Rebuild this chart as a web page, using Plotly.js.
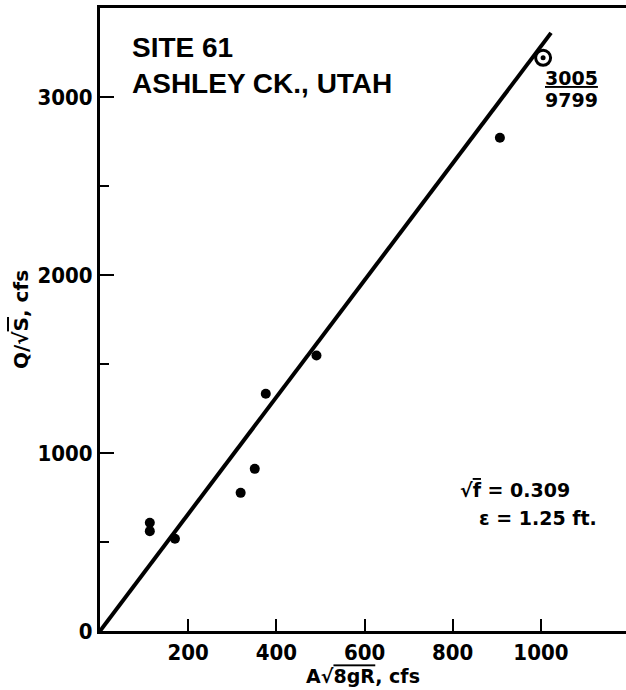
<!DOCTYPE html>
<html>
<head>
<meta charset="utf-8">
<script src="https://cdn.plot.ly/plotly-3.0.1.min.js"></script>
<style>
  html, body { margin: 0; padding: 0; background: #fff; }
  #chart { width: 626px; height: 690px; }
</style>
</head>
<body>
<div id="chart"></div>
<script>
// Observed points: A*sqrt(8gR) (cfs) vs Q/sqrt(S) (cfs)
const xPoints = [113, 113, 170, 319, 351, 376, 491, 907];
const yPoints = [608, 561, 518, 776, 911, 1333, 1548, 2771];
// Circled point (labelled 3005 / 9799)
const xCircled = [1005];
const yCircled = [3220];
// Fitted line through origin (sqrt f = 0.309)
const xLine = [0, 1023];
const yLine = [0, 3360];
// Tick labels
const xTicks = [200, 400, 600, 800, 1000];
const yTicks = [0, 1000, 2000, 3000];
const yMinorTicks = [500, 1500, 2500];

const tickFont = { family: 'DejaVu Sans Condensed, DejaVu Sans', size: 22, color: '#000', weight: 'bold' };

const traces = [
  {
    x: xLine, y: yLine, mode: 'lines', type: 'scatter',
    line: { color: '#000', width: 4 }, hoverinfo: 'skip', showlegend: false
  },
  {
    x: xPoints, y: yPoints, mode: 'markers', type: 'scatter',
    marker: { color: '#000', size: 10, symbol: 'circle' }, showlegend: false
  },
  {
    x: xCircled, y: yCircled, mode: 'markers', type: 'scatter',
    marker: { color: '#000', size: 15, symbol: 'circle-open', line: { color: '#000', width: 3 } },
    showlegend: false
  },
  {
    x: xCircled, y: yCircled, mode: 'markers', type: 'scatter',
    marker: { color: '#000', size: 5, symbol: 'circle' }, showlegend: false
  }
];

const layout = {
  width: 626, height: 690,
  margin: { l: 100, r: 0, t: 8, b: 59 },
  paper_bgcolor: '#fff', plot_bgcolor: '#fff',
  showlegend: false,
  xaxis: {
    range: [0, 1193],
    tickvals: xTicks, ticktext: xTicks.map(String),
    ticks: 'inside', ticklen: 12, tickwidth: 2, tickcolor: '#000',
    showline: true, linewidth: 3, linecolor: '#000', mirror: true,
    showgrid: false, zeroline: false,
    tickfont: tickFont,
    title: {
      text: "A√<span style='text-decoration:overline'>8gR</span>, cfs",
      font: { family: 'DejaVu Sans', size: 19, color: '#000', weight: 'bold' },
      standoff: 2
    }
  },
  yaxis: {
    range: [0, 3500],
    tickvals: yTicks, ticktext: yTicks.map(String),
    ticks: 'inside', ticklen: 14, tickwidth: 2, tickcolor: '#000',
    minor: { tickvals: yMinorTicks, ticks: 'inside', ticklen: 9, tickwidth: 2, tickcolor: '#000' },
    showline: true, linewidth: 3, linecolor: '#000',
    showgrid: false, zeroline: false,
    tickfont: tickFont,
    ticklabelstandoff: 0,
    title: {
      text: "Q/√<span style='text-decoration:overline'>S</span>, cfs",
      font: { family: 'DejaVu Sans', size: 20, color: '#000', weight: 'bold' },
      standoff: 4
    }
  },
  annotations: [
    { text: 'SITE 61', xref: 'paper', yref: 'paper', x: 0.057, y: 0.937,
      xanchor: 'left', yanchor: 'middle', showarrow: false,
      font: { family: 'Liberation Sans', size: 28, color: '#000', weight: 'bold' } },
    { text: 'ASHLEY CK., UTAH', xref: 'paper', yref: 'paper', x: 0.057, y: 0.879,
      xanchor: 'left', yanchor: 'middle', showarrow: false,
      font: { family: 'Liberation Sans', size: 28, color: '#000', weight: 'bold' } },
    { text: '<u>3005</u>', xref: 'paper', yref: 'paper', x: 0.896, y: 0.887,
      xanchor: 'center', yanchor: 'middle', showarrow: false,
      font: { family: 'DejaVu Sans', size: 19, color: '#000', weight: 'bold' } },
    { text: '9799', xref: 'paper', yref: 'paper', x: 0.896, y: 0.852,
      xanchor: 'center', yanchor: 'middle', showarrow: false,
      font: { family: 'DejaVu Sans', size: 19, color: '#000', weight: 'bold' } },
    { text: "√<span style='text-decoration:overline'>f</span> = 0.309", xref: 'paper', yref: 'paper',
      x: 0.681, y: 0.227, xanchor: 'left', yanchor: 'middle', showarrow: false,
      font: { family: 'DejaVu Sans', size: 19, color: '#000', weight: 'bold' } },
    { text: 'ε = 1.25 ft.', xref: 'paper', yref: 'paper',
      x: 0.717, y: 0.182, xanchor: 'left', yanchor: 'middle', showarrow: false,
      font: { family: 'DejaVu Sans', size: 19, color: '#000', weight: 'bold' } }
  ]
};

Plotly.newPlot('chart', traces, layout, { staticPlot: true, displayModeBar: false });
</script>
</body>
</html>
